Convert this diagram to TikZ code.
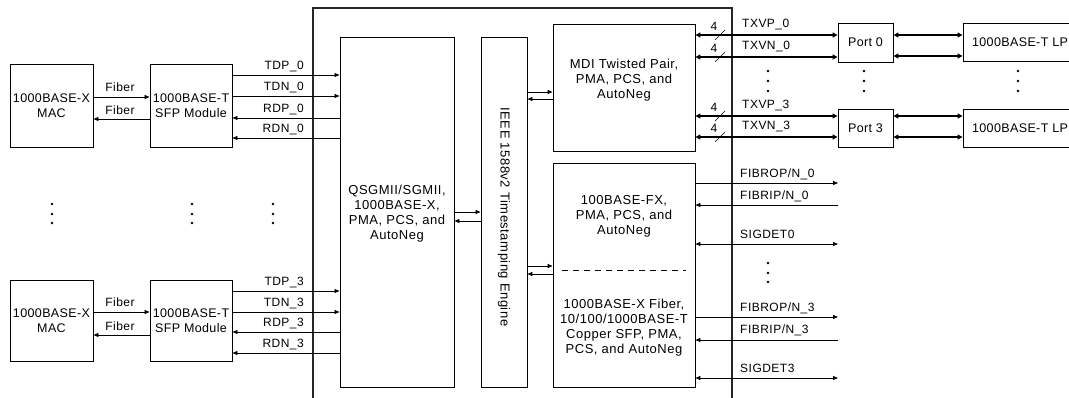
\documentclass[tikz,border=0pt]{standalone}
\usepackage{fontspec}
\setmainfont{Liberation Sans}
\newfontfamily\wideA[LetterSpace=4]{Liberation Sans}
\newfontfamily\wideB[LetterSpace=3]{Liberation Sans}
\usetikzlibrary{arrows.meta}
\begin{document}
\begin{tikzpicture}[x=1pt,y=-1pt,
 box/.style={draw, line width=0.9pt, inner sep=0pt, align=center, font=\wideB\fontsize{12.5}{15}\selectfont},
 txt/.style={align=center, inner sep=0pt, font=\wideA\fontsize{13}{15}\selectfont},
 lbl/.style={inner sep=0pt, font=\wideA\fontsize{12}{14}\selectfont},
 sig/.style={line width=0.8pt},
 ar/.style={sig,-{Triangle[length=5pt,width=4pt]}},
 ra/.style={sig,{Triangle[length=5pt,width=4pt]}-},
 dar/.style={sig,{Triangle[length=5pt,width=4pt]}-{Triangle[length=5pt,width=4pt]}},
 thk/.style={line width=1.8pt,{Triangle[length=5pt,width=5pt]}-{Triangle[length=5pt,width=5pt]}},
 dotn/.style={circle, fill, inner sep=0pt, minimum size=2.8pt}
]
\useasboundingbox (0,0) rectangle (1069,398);
\clip (0,0) rectangle (1069,398);

% main frame (open at the bottom)
\draw[line width=1.8pt, black!85] (313,402) -- (313,8) -- (732,8) -- (732,402);

% left blocks
\node[box, minimum width=83pt, minimum height=83pt] (mac0) at (51.5,105.5) {1000BASE-X\\MAC};
\node[box, minimum width=82pt, minimum height=83pt] (sfp0) at (191,105.5) {1000BASE-T\\SFP Module};
\node[box, minimum width=83pt, minimum height=81pt] (mac3) at (51.5,320.5) {1000BASE-X\\MAC};
\node[box, minimum width=82pt, minimum height=81pt] (sfp3) at (191,320.5) {1000BASE-T\\SFP Module};

% inner blocks
\node[box, minimum width=114pt, minimum height=350pt] (qs) at (397,212) {};
\node[txt] (qst) at (397,214) {QSGMII/SGMII,\\1000BASE-X,\\PMA, PCS, and\\AutoNeg};
\node[box, minimum width=46pt, minimum height=350pt] (ieee) at (504,212) {};
\node[txt, rotate=-90] (ieeet) at (504,217) {IEEE 1588v2 Timestamping Engine};
\node[box, minimum width=142pt, minimum height=127pt] (mdi) at (624,87.5) {};
\node[txt] (mdit) at (624,80) {MDI Twisted Pair,\\PMA, PCS, and\\AutoNeg};
\node[box, minimum width=142pt, minimum height=224pt] (fx) at (624,275) {};
\node[txt] (fxt1) at (624,216) {100BASE-FX,\\PMA, PCS, and\\AutoNeg};
\node[txt] (fxt2) at (624,328) {1000BASE-X Fiber,\\10/100/1000BASE-T\\Copper SFP, PMA,\\PCS, and AutoNeg};
\draw[line width=0.6pt, dash pattern=on 6pt off 5pt] (562,270) -- (686,270);

% right blocks
\node[box, minimum width=55pt, minimum height=39pt] (port0) at (865.5,42.5) {Port 0};
\node[box, minimum width=55pt, minimum height=38pt] (port3) at (865.5,128) {Port 3};
\node[box, minimum width=114pt, minimum height=38pt] (lp0) at (1020,42) {1000BASE-T LP};
\node[box, minimum width=114pt, minimum height=38pt] (lp3) at (1020,128) {1000BASE-T LP};

% MAC <-> SFP
\draw[ar] (mac0.east |- 0,97) -- (sfp0.west |- 0,97);
\draw[ra] (mac0.east |- 0,119) -- (sfp0.west |- 0,119);
\node[lbl] (fib1) at (120,87) {Fiber};
\node[lbl] (fib2) at (120,110) {Fiber};
\draw[ar] (mac3.east |- 0,312) -- (sfp3.west |- 0,312);
\draw[ra] (mac3.east |- 0,335) -- (sfp3.west |- 0,335);
\node[lbl] (fib3) at (120,302) {Fiber};
\node[lbl] (fib4) at (120,326) {Fiber};

% SFP <-> QSGMII
\draw[ar] (sfp0.east |- 0,75) -- (qs.west |- 0,75);
\draw[ar] (sfp0.east |- 0,96) -- (qs.west |- 0,96);
\draw[ra] (sfp0.east |- 0,118) -- (qs.west |- 0,118);
\draw[ra] (sfp0.east |- 0,138) -- (qs.west |- 0,138);
\node[lbl, anchor=east] (l1) at (304,67) {TDP\_0};
\node[lbl, anchor=east] (l2) at (304,88) {TDN\_0};
\node[lbl, anchor=east] (l3) at (304,110) {RDP\_0};
\node[lbl, anchor=east] (l4) at (304,130) {RDN\_0};
\draw[ar] (sfp3.east |- 0,291) -- (qs.west |- 0,291);
\draw[ar] (sfp3.east |- 0,312) -- (qs.west |- 0,312);
\draw[ra] (sfp3.east |- 0,332) -- (qs.west |- 0,332);
\draw[ra] (sfp3.east |- 0,353) -- (qs.west |- 0,353);
\node[lbl, anchor=east] (l5) at (304,283) {TDP\_3};
\node[lbl, anchor=east] (l6) at (304,304) {TDN\_3};
\node[lbl, anchor=east] (l7) at (304,324) {RDP\_3};
\node[lbl, anchor=east] (l8) at (304,345) {RDN\_3};

% QSGMII <-> IEEE <-> PHY
\draw[ar] (qs.east |- 0,212) -- (ieee.west |- 0,212);
\draw[ra] (qs.east |- 0,221) -- (ieee.west |- 0,221);
\draw[ar] (ieee.east |- 0,92) -- (mdi.west |- 0,92);
\draw[ra] (ieee.east |- 0,99) -- (mdi.west |- 0,99);
\draw[ar] (ieee.east |- 0,266) -- (fx.west |- 0,266);
\draw[ra] (ieee.east |- 0,274) -- (fx.west |- 0,274);

% MDI <-> Ports
\draw[thk] (mdi.east |- 0,35) -- (port0.west |- 0,35);
\draw[thk] (mdi.east |- 0,57) -- (port0.west |- 0,57);
\draw[thk] (mdi.east |- 0,116) -- (port3.west |- 0,116);
\draw[thk] (mdi.east |- 0,137) -- (port3.west |- 0,137);
\foreach \y/\n in {35/a,57/b,116/c,137/d}{
  \draw[line width=0.7pt] (715,\y+5) -- (725,\y-5);
  \node[lbl] (four\n) at (714,\y-9) {4};
}
\node[lbl, anchor=west] (t1) at (742,25) {TXVP\_0};
\node[lbl, anchor=west] (t2) at (742,47) {TXVN\_0};
\node[lbl, anchor=west] (t3) at (742,106) {TXVP\_3};
\node[lbl, anchor=west] (t4) at (742,127) {TXVN\_3};

% Ports <-> LP
\draw[thk] (port0.east |- 0,35) -- (lp0.west |- 0,35);
\draw[thk] (port0.east |- 0,56) -- (lp0.west |- 0,56);
\draw[thk] (port3.east |- 0,116) -- (lp3.west |- 0,116);
\draw[thk] (port3.east |- 0,137) -- (lp3.west |- 0,137);

% fiber-side signals
\coordinate (e1) at (838,183);
\coordinate (e2) at (838,205);
\coordinate (e3) at (838,244);
\coordinate (e4) at (838,317);
\coordinate (e5) at (838,340);
\coordinate (e6) at (838,378);
\draw[ar] (fx.east |- e1) -- (e1);
\draw[ra] (fx.east |- e2) -- (e2);
\draw[dar] (fx.east |- e3) -- (e3);
\draw[ar] (fx.east |- e4) -- (e4);
\draw[ra] (fx.east |- e5) -- (e5);
\draw[dar] (fx.east |- e6) -- (e6);
\node[lbl, anchor=west] (f1) at (740,174) {FIBROP/N\_0};
\node[lbl, anchor=west] (f2) at (740,196) {FIBRIP/N\_0};
\node[lbl, anchor=west] (f3) at (740,234) {SIGDET0};
\node[lbl, anchor=west] (f4) at (740,308) {FIBROP/N\_3};
\node[lbl, anchor=west] (f5) at (740,330) {FIBRIP/N\_3};
\node[lbl, anchor=west] (f6) at (740,368) {SIGDET3};

% ellipsis dots
\foreach \x/\n in {52/a,192/b,273/c}{
  \node[dotn] (dl\n1) at (\x,204) {};
  \node[dotn] (dl\n2) at (\x,214) {};
  \node[dotn] (dl\n3) at (\x,223) {};
}
\foreach \x/\n in {768/a,864/b,1018/c}{
  \node[dotn] (dr\n1) at (\x,71) {};
  \node[dotn] (dr\n2) at (\x,81) {};
  \node[dotn] (dr\n3) at (\x,91) {};
}
\node[dotn] (dq1) at (768,263) {};
\node[dotn] (dq2) at (768,273) {};
\node[dotn] (dq3) at (768,282) {};
\end{tikzpicture}
\end{document}
